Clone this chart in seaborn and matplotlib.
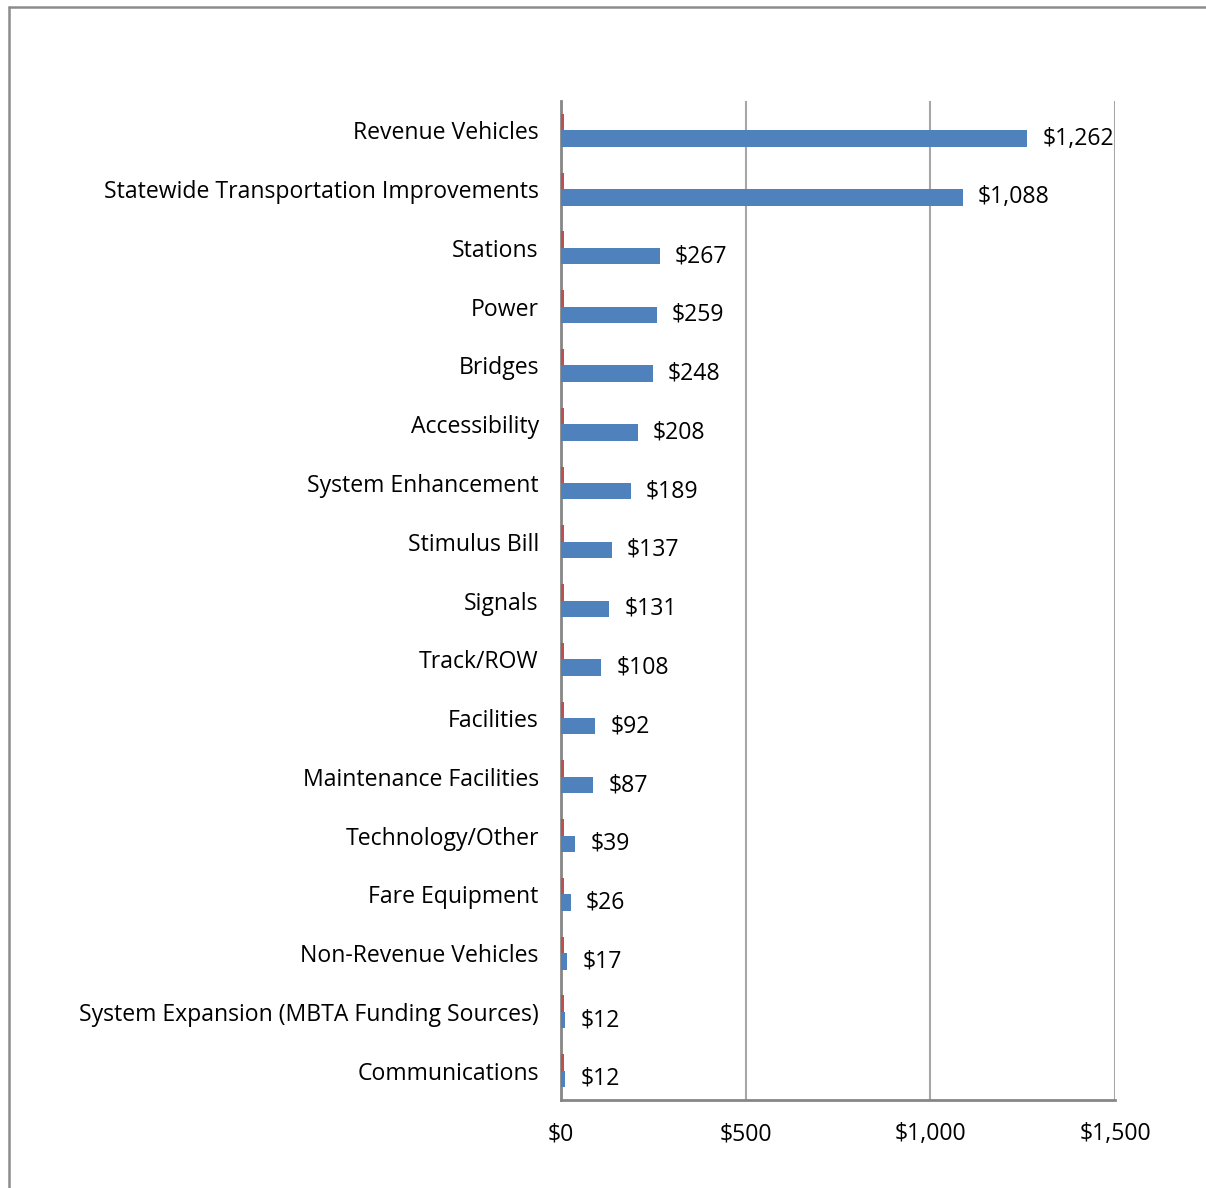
import matplotlib
matplotlib.use("Agg")
import matplotlib.pyplot as plt
from matplotlib.lines import Line2D
import seaborn as sns
import pandas as pd
import numpy as np

categories = [
    "Revenue Vehicles",
    "Statewide Transportation Improvements",
    "Stations",
    "Power",
    "Bridges",
    "Accessibility",
    "System Enhancement",
    "Stimulus Bill",
    "Signals",
    "Track/ROW",
    "Facilities",
    "Maintenance Facilities",
    "Technology/Other",
    "Fare Equipment",
    "Non-Revenue Vehicles",
    "System Expansion (MBTA Funding Sources)",
    "Communications",
]
spending = [1262, 1088, 267, 259, 248, 208, 189, 137, 131, 108, 92, 87, 39, 26, 17, 12, 12]
secondary = [8] * len(categories)
x_ticks = [0, 500, 1000, 1500]
x_tick_labels = ["$0", "$500", "$1,000", "$1,500"]

df = pd.DataFrame({
    "category": categories * 2,
    "value": secondary + spending,
    "series": ["secondary"] * len(categories) + ["spending"] * len(categories),
})

sns.set_theme(style="white")
plt.rcParams["font.family"] = ["Open Sans", "DejaVu Sans"]
FS = 16.6

fig = plt.figure(figsize=(12.06, 11.88), dpi=100)
ax = fig.add_axes([561 / 1206, 1 - 1100 / 1188, (1115 - 561) / 1206, 999 / 1188])

sns.barplot(
    data=df, y="category", x="value", hue="series", orient="h",
    order=categories, hue_order=["secondary", "spending"],
    palette={"secondary": "#C0504D", "spending": "#4F81BD"},
    width=0.56, gap=0, dodge=True, saturation=1, legend=False, ax=ax,
)
for patch in ax.patches:
    patch.set_zorder(3)
    patch.set_edgecolor("none")

ax.set_xlim(0, 1500)
ax.set_ylim(len(categories) - 0.5, -0.5)
ax.set_xticks(x_ticks)
ax.set_xticklabels(x_tick_labels, fontsize=FS, color="black")
ax.set_xlabel("")
ax.set_ylabel("")

ax.set_yticks(range(len(categories)))
ax.set_yticklabels(categories, fontsize=FS, color="black")
ax.set_yticks(np.arange(-0.5, len(categories), 1.0), minor=True)
ax.tick_params(axis="y", which="major", length=0, pad=16)
ax.tick_params(axis="y", which="minor", length=6, width=1.5, color="#868686", direction="out")
ax.tick_params(axis="x", which="major", length=6, width=1.5, color="#868686", direction="out", pad=10)

ax.grid(axis="x", color="#A6A6A6", linewidth=1.5)
ax.set_axisbelow(True)
for side in ["top", "right"]:
    ax.spines[side].set_visible(False)
for side in ["left", "bottom"]:
    ax.spines[side].set_color("#868686")
    ax.spines[side].set_linewidth(2)
    ax.spines[side].set_zorder(2.5)

spend_bars = ax.containers[1]
ax.bar_label(spend_bars, labels=[f"${v:,.0f}" for v in spending],
             padding=11, fontsize=FS, color="black")

# outer chart frame
fig.add_artist(Line2D([8.5 / 1206, 8.5 / 1206], [0, 1 - 7 / 1188],
                      transform=fig.transFigure, color="#8C8C8C", linewidth=1.8))
fig.add_artist(Line2D([8.5 / 1206, 1], [1 - 7 / 1188, 1 - 7 / 1188],
                      transform=fig.transFigure, color="#8C8C8C", linewidth=1.8))

fig.savefig("out.png", dpi=100, facecolor="white")
